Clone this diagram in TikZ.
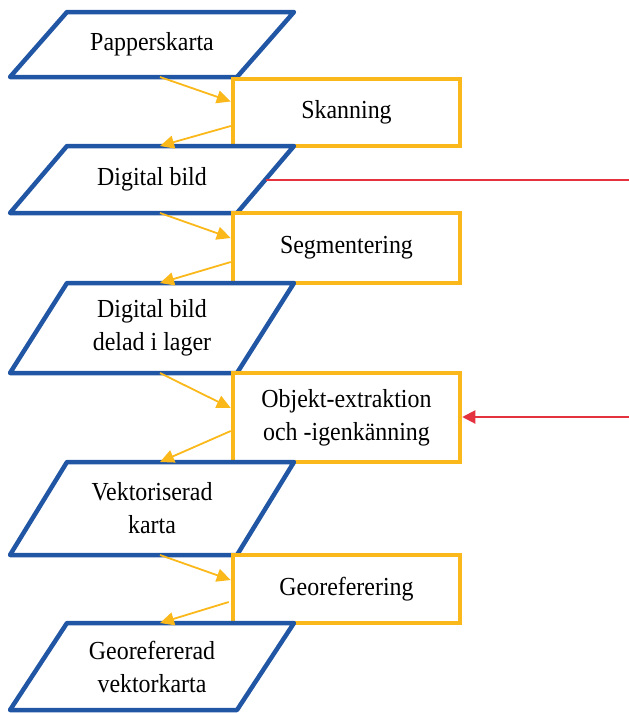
\documentclass[tikz,border=0pt]{standalone}
\usepackage{fontspec}
\setmainfont[FakeStretch=0.92]{Liberation Serif}
\usetikzlibrary{arrows.meta,calc}
\definecolor{pblue}{RGB}{33,86,165}
\definecolor{pgold}{RGB}{250,184,27}
\definecolor{pred}{RGB}{228,50,62}
\newcommand\parashape[1]{\draw[pline] (#1.south west) -- ($(#1.south east)+(-57,0)$) -- (#1.north east) -- ($(#1.north west)+(57,0)$) -- cycle;}
\begin{document}
\begin{tikzpicture}[x=1pt,y=-1pt,
  iobox/.style={minimum width=284pt, inner sep=0pt, outer sep=0pt, align=center, font=\fontsize{26}{33}\selectfont},
  pline/.style={draw=pblue, line width=4.5pt, line join=round},
  procbox/.style={draw=pgold, line width=4.5pt, fill=white, minimum width=227pt, inner sep=0pt, align=center, font=\fontsize{26}{33}\selectfont},
  arr/.style={color=pgold, line width=1.8pt, -{Triangle[length=14pt,width=13pt]}},
  redline/.style={color=pred, line width=2pt},
  redarr/.style={color=pred, line width=2pt, -{Triangle[length=13pt,width=13pt]}}]
\useasboundingbox (0,0) rectangle (629,713);
% stage 1
\node[iobox, minimum height=65pt] (p1) at (152,44.5) {Papperskarta};
\parashape{p1}
\node[procbox, minimum height=67pt] (b1) at (346.5,112.5) {Skanning};
\node[iobox, minimum height=67pt] (p2) at (152,179.5) {Digital bild};
\parashape{p2}
\node[procbox, minimum height=70pt] (b2) at (346.5,248) {Segmentering};
\node[iobox, minimum height=90pt] (p3) at (152,328) {Digital bild\\delad i lager};
\parashape{p3}
\node[procbox, minimum height=89pt] (b3) at (346.5,417.5) {Objekt-extraktion\\och -igenkänning};
\node[iobox, minimum height=93pt] (p4) at (152,508.5) {Vektoriserad\\karta};
\parashape{p4}
\node[procbox, minimum height=68pt] (b4) at (346.5,589) {Georeferering};
\node[iobox, minimum height=87pt] (p5) at (152,666.5) {Georefererad\\vektorkarta};
\parashape{p5}
% arrows
\draw[arr] ($(p1.south west)+(150,0)$) -- ($(b1.west)+(0,-11)$);
\draw[arr] ($(b1.west)+(0,13.5)$) -- ($(p2.north west)+(150,0)$);
\draw[arr] ($(p2.south west)+(150,0)$) -- ($(b2.west)+(0,-10)$);
\draw[arr] ($(b2.west)+(0,14)$) -- ($(p3.north west)+(150,0)$);
\draw[arr] ($(p3.south west)+(150,0)$) -- ($(b3.west)+(0,-9.5)$);
\draw[arr] ($(b3.west)+(0,13.5)$) -- ($(p4.north west)+(150,0)$);
\draw[arr] ($(p4.south west)+(150,0)$) -- ($(b4.west)+(0,-9)$);
\draw[arr] ($(b4.west)+(-2,13)$) -- ($(p5.north west)+(150,0)$);
% red lines
\coordinate (r1) at (629,180);
\coordinate (r2) at (629,417);
\draw[redline] ($(p2.east)+(-28.5,0.5)$) -- (r1);
\draw[redarr] (r2) -- (b3.east |- r2);
\end{tikzpicture}
\end{document}
